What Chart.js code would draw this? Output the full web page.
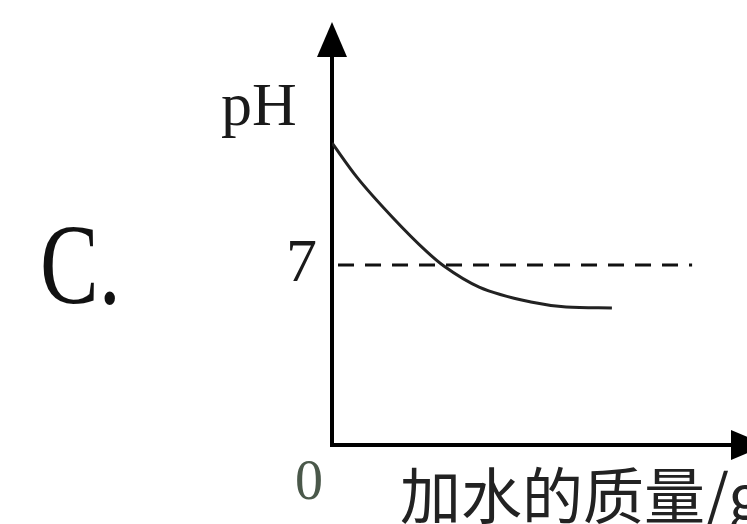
<!DOCTYPE html>
<html>
<head>
<meta charset="utf-8">
<script src="https://cdn.jsdelivr.net/npm/chart.js@4"></script>
<style>
html,body{margin:0;padding:0;background:#fff;}
#wrap{width:747px;height:524px;position:relative;}
</style>
</head>
<body>
<div id="wrap"><canvas id="c"></canvas></div>
<script>
// Data
const waterMass = [0, 0.62, 1.5, 2.37, 2.79, 3.67, 4.96, 5.84, 6.98];
const phValues  = [11.75, 10.42, 8.87, 7.51, 6.96, 6.14, 5.56, 5.37, 5.33];
const neutralX  = [0.15, 8.98];
const neutralPH = [7, 7];
const yTicks = [7];
const xTicks = [0];
const yLabel = 'pH';
const xLabel = '加水的质量/g';
const optionLabel = 'C.';

const curve = waterMass.map((x, i) => ({x, y: phValues[i]}));
const neutral = neutralX.map((x, i) => ({x, y: neutralPH[i]}));

const extras = {
  id: 'extras',
  afterDraw(chart) {
    const ctx = chart.ctx;
    const a = chart.chartArea;
    ctx.save();
    ctx.fillStyle = '#000';
    // y-axis arrow
    ctx.beginPath();
    ctx.moveTo(a.left, 22);
    ctx.lineTo(a.left - 15, a.top + 2);
    ctx.lineTo(a.left + 15, a.top + 2);
    ctx.closePath();
    ctx.fill();
    // x-axis arrow
    ctx.beginPath();
    ctx.moveTo(a.right + 34, a.bottom);
    ctx.lineTo(a.right - 2, a.bottom - 15);
    ctx.lineTo(a.right - 2, a.bottom + 15);
    ctx.closePath();
    ctx.fill();
    // labels
    ctx.fillStyle = '#1a1a1a';
    ctx.textBaseline = 'alphabetic';
    ctx.textAlign = 'left';
    ctx.font = '62px "Liberation Serif"';
    ctx.fillText(yLabel, 221, 125);
    ctx.save();
    ctx.translate(40, 303);
    ctx.scale(1, 1.3);
    ctx.font = '88px "Liberation Serif"';
    ctx.fillStyle = '#111';
    ctx.fillText(optionLabel, 0, 0);
    ctx.restore();
    ctx.font = '61px "Noto Sans CJK SC"';
    ctx.fillStyle = '#222';
    ctx.fillText(xLabel, 400, 519);
    ctx.restore();
  }
};

new Chart(document.getElementById('c'), {
  type: 'scatter',
  data: {
    datasets: [
      {
        data: curve,
        showLine: true,
        borderColor: '#222',
        borderWidth: 3,
        pointRadius: 0,
        cubicInterpolationMode: 'monotone',
        fill: false
      },
      {
        data: neutral,
        showLine: true,
        borderColor: '#111',
        borderWidth: 3,
        borderDash: [16, 11],
        pointRadius: 0,
        fill: false
      }
    ]
  },
  options: {
    responsive: true,
    maintainAspectRatio: false,
    animation: false,
    layout: {padding: {top: 55, right: 14, left: 0, bottom: 0}},
    plugins: {legend: {display: false}, tooltip: {enabled: false}},
    scales: {
      x: {
        type: 'linear',
        min: 0,
        max: 10,
        grid: {display: false, drawTicks: false},
        border: {display: true, color: '#000', width: 4},
        afterBuildTicks: s => { s.ticks = xTicks.map(v => ({value: v})); },
        afterFit: s => { s.height = 79; },
        ticks: {
          font: {family: 'Liberation Serif', size: 56},
          color: '#4a584a',
          padding: 6,
          labelOffset: -23,
          maxRotation: 0
        }
      },
      y: {
        type: 'linear',
        min: 0,
        max: 15.17,
        grid: {display: false, drawTicks: false},
        border: {display: true, color: '#000', width: 4},
        afterBuildTicks: s => { s.ticks = yTicks.map(v => ({value: v})); },
        afterFit: s => { s.width = 332; },
        ticks: {
          font: {family: 'Liberation Serif', size: 62},
          color: '#1a1a1a',
          padding: 15
        }
      }
    }
  },
  plugins: [extras]
});
</script>
</body>
</html>
